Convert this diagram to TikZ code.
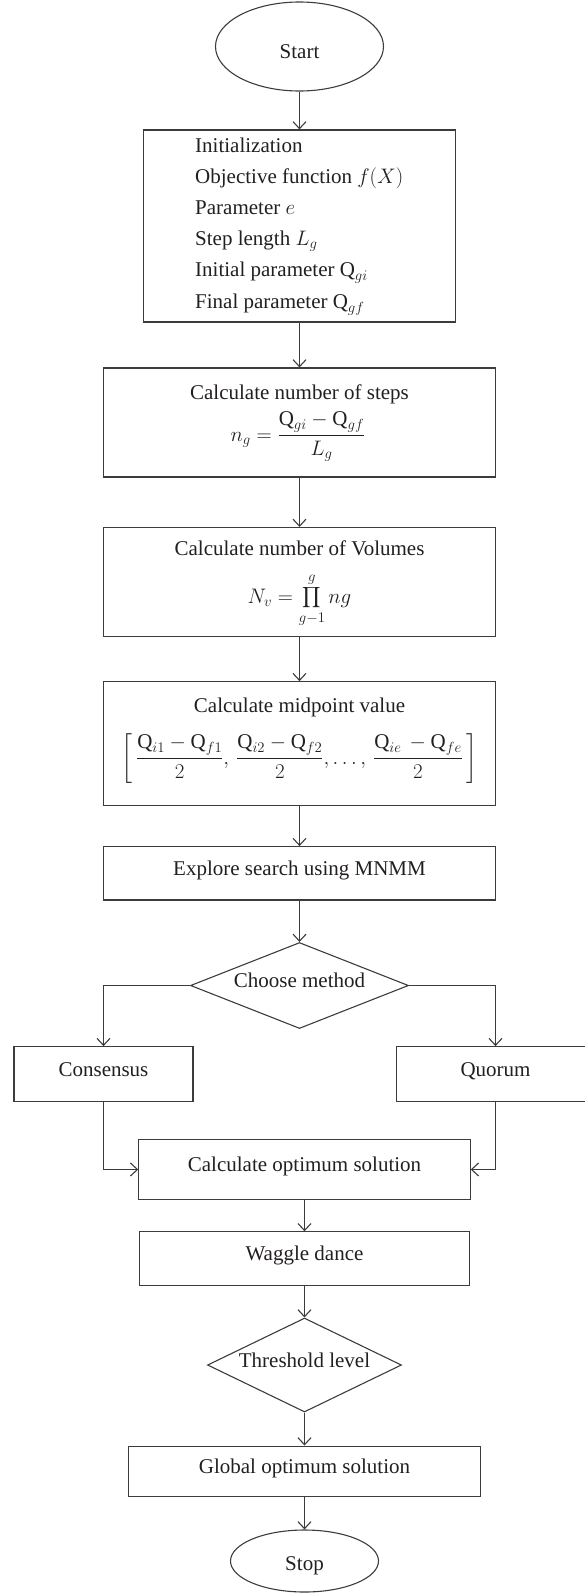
\RequirePackage{fix-cm}
\documentclass[tikz,border=0pt]{standalone}
\usepackage{exscale}
\usepackage{fontspec}
\setmainfont{Liberation Serif}
\usetikzlibrary{arrows.meta,shapes.geometric}
\definecolor{linec}{HTML}{3C3C3C}
\definecolor{textc}{HTML}{231F20}
\newcommand{\myprod}{\mathop{\vcenter{\hbox{\fontsize{15.5}{16}\selectfont$\displaystyle\prod$}}}\limits}
\begin{document}
\begin{tikzpicture}[x=1pt,y=-1pt,
  every node/.style={text=textc, font=\fontsize{21}{25}\selectfont},
  box/.style={draw=linec, line width=1.1pt, rectangle, inner sep=0pt, text height=0.7em, text depth=0.25em},
  term/.style={draw=linec, line width=1.1pt, ellipse, inner sep=0pt, text depth=0.25em},
  decision/.style={draw=linec, line width=1.1pt, diamond, aspect=2.5, inner sep=0pt, text height=0.7em, text depth=0.25em},
  arr/.style={draw=linec, line width=1.1pt, -{Straight Barb[length=7pt,width=13pt]}},
  lbl/.style={anchor=base, inner sep=0pt},
  lbll/.style={anchor=base west, inner sep=0pt}]
\useasboundingbox (0,0) rectangle (584,1593);

% top column
\node[term, text height=25.6pt, minimum width=168, minimum height=89] (start) at (299.5,46.5) {Start};

\node[box, minimum width=312, minimum height=192] (init) at (299.5,226) {};
\node[lbll] (i1) at (195,152) {Initialization};
\node[lbll] (i2) at (195,183.2) {Objective function $f(X)$};
\node[lbll] (i3) at (195,214.4) {Parameter $e$};
\node[lbll] (i4) at (195,245.6) {Step length $L_g$};
\node[lbll] (i5) at (195,276.8) {Initial parameter $\textrm{Q}_{gi}$};
\node[lbll] (i6) at (195,308) {Final parameter $\textrm{Q}_{gf}$};

\node[box, minimum width=392, minimum height=109] (steps) at (299.5,422.5) {};
\node[lbl] (stepsT) at (299.5,399) {Calculate number of steps};
\node[lbl] (stepsF) at (298,441) {$\displaystyle n_g = \frac{\textrm{Q}_{gi}-\textrm{Q}_{gf}}{L_g}$};

\node[box, minimum width=392, minimum height=109] (vol) at (299.5,582) {};
\node[lbl] (volT) at (299.5,555) {Calculate number of Volumes};
\node[lbl] (volF) at (299.5,603) {$\displaystyle N_v = \myprod_{g-1}^{g} ng$};

\node[box, minimum width=392, minimum height=124] (mid) at (299.5,743.7) {};
\node[lbl] (midT) at (299.5,712) {Calculate midpoint value};
\node[lbl] (midF) at (299.5,764) {$\displaystyle \left[\,\frac{\textrm{Q}_{i1}-\textrm{Q}_{f1}}{2},\,\frac{\textrm{Q}_{i2}-\textrm{Q}_{f2}}{2},\ldots,\,\frac{\textrm{Q}_{ie}\,-\textrm{Q}_{fe}}{2}\,\right]$};

\node[box, minimum width=392, minimum height=53.3] (explore) at (299.5,873.3) {Explore search using MNMM};

\node[decision, minimum width=218, minimum height=86] (choose) at (299.5,985.5) {Choose method};

\node[box, minimum width=179, minimum height=54.6] (cons) at (103.5,1074) {Consensus};
\node[box, minimum width=198, minimum height=54.6] (quor) at (495.5,1074) {Quorum};

% lower column
\node[box, minimum width=331.4, minimum height=60] (calc) at (304.5,1169.5) {Calculate optimum solution};
\node[box, minimum width=330, minimum height=53.3] (waggle) at (304.5,1258.5) {Waggle dance};
\node[decision, minimum width=194, minimum height=94] (thr) at (304.5,1365) {Threshold level};
\node[box, minimum width=352, minimum height=50.7] (glob) at (304.5,1471.4) {Global optimum solution};
\node[term, text height=20.6pt, minimum width=148, minimum height=62] (stop) at (304.5,1561) {Stop};

% connectors
\draw[arr] (start.south) -- (init.north);
\draw[arr] (init.south) -- (steps.north);
\draw[arr] (steps.south) -- (vol.north);
\draw[arr] (vol.south) -- (mid.north);
\draw[arr] (mid.south) -- (explore.north);
\draw[arr] (explore.south) -- (choose.north);
\draw[arr] (choose.west) -| (cons.north);
\draw[arr] (choose.east) -| (quor.north);
\draw[arr] (cons.south) |- (calc.west);
\draw[arr] (quor.south) |- (calc.east);
\draw[arr] (calc.south) -- (waggle.north);
\draw[arr] (waggle.south) -- (thr.north);
\draw[arr] (thr.south) -- (glob.north);
\draw[arr] (glob.south) -- (stop.north);
\end{tikzpicture}
\end{document}
